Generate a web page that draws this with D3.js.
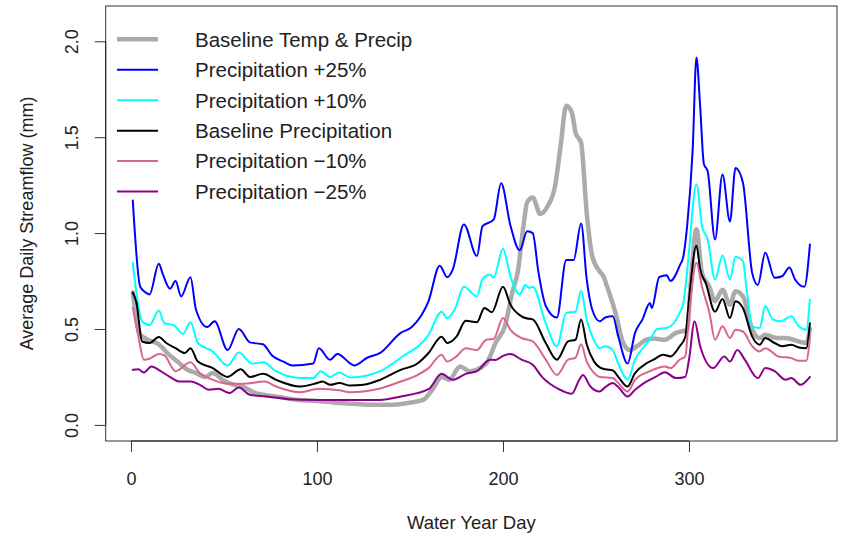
<!DOCTYPE html>
<html><head><meta charset="utf-8">
<script src="https://cdn.jsdelivr.net/npm/d3@7"></script>
<style>
html,body{margin:0;padding:0;background:#fff;}
svg{display:block;}
text{font-family:"Liberation Sans",Arial,Helvetica,sans-serif;fill:#222;}
</style></head>
<body><svg id="chart" width="843" height="533"></svg>
<script>
// ---------- data ----------
const xTicks = [0, 100, 200, 300];
const yTicks = [0, 0.5, 1.0, 1.5, 2.0];
const yTickLabels = ["0.0", "0.5", "1.0", "1.5", "2.0"];
const seriesNames = ["Baseline Temp & Precip", "Precipitation +25%", "Precipitation +10%",
  "Baseline Precipitation", "Precipitation \u221210%", "Precipitation \u221225%"];

const greyDays = [1,5,10,15,20,25,30,35,40,44,50,55,60,67,70,80,90,100,110,120,130,140,148,157,162,167,171,177,182,191,196,201,205,208,211,213,216,220,224,228,231,234,237,239,242,245,248,252,254,256,261,264,268,272,277,281,287,293,299,301,304,307,311,314,318,322,325,329,334,338,341,347,352,359,363,365];
const greyVals = [0.69,0.47,0.44,0.42,0.37,0.33,0.29,0.27,0.25,0.27,0.23,0.21,0.20,0.166,0.16,0.145,0.13,0.125,0.115,0.11,0.105,0.105,0.113,0.13,0.183,0.25,0.235,0.305,0.28,0.32,0.427,0.514,0.69,0.80,1.036,1.16,1.185,1.10,1.14,1.245,1.455,1.664,1.63,1.524,1.47,1.106,0.88,0.80,0.775,0.72,0.566,0.444,0.39,0.41,0.444,0.45,0.444,0.48,0.496,0.75,1.02,0.79,0.72,0.645,0.705,0.627,0.697,0.67,0.496,0.453,0.47,0.453,0.453,0.435,0.427,0.50];

const blueDays = [1,5,8,10,15,17,21,24,27,32,35,41,45,52,58,64,71,76,82,87,98,101,107,111,118,120,127,134,145,151,160,166,170,173,179,186,189,195,199,204,209,213,216,219,223,229,234,238,242,245,248,252,255,259,262,267,271,275,279,280,284,288,290,295,297,299,302,304,306,308,310,314,318,322,325,329,334,337,341,346,350,354,357,362,365];
const blueVals = [1.17,0.72,0.69,0.68,0.84,0.79,0.71,0.75,0.67,0.77,0.60,0.51,0.54,0.39,0.50,0.43,0.42,0.36,0.33,0.31,0.32,0.40,0.34,0.37,0.32,0.31,0.35,0.375,0.48,0.51,0.645,0.83,0.77,0.81,1.045,0.88,1.036,1.07,1.26,1.04,0.91,1.01,1.00,0.80,0.62,0.56,0.86,0.86,1.05,0.76,0.60,0.54,0.56,0.566,0.46,0.32,0.48,0.55,0.636,0.61,0.77,0.78,0.75,0.83,0.88,1.036,1.44,1.916,1.66,1.36,1.324,0.967,1.306,1.06,1.34,1.263,0.79,0.73,0.897,0.767,0.775,0.82,0.758,0.72,0.94];

const cyanDays = [1,6,10,15,18,23,28,32,36,44,52,58,65,71,78,91,98,102,107,112,118,134,145,160,167,170,174,179,186,189,193,195,200,204,209,212,214,216,223,229,234,239,242,245,249,252,255,259,262,267,271,276,279,283,288,295,297,299,304,307,310,314,318,322,325,329,331,334,338,341,345,349,355,359,363,365];
const cyanVals = [0.845,0.54,0.52,0.596,0.53,0.52,0.475,0.535,0.427,0.383,0.31,0.378,0.32,0.326,0.28,0.244,0.244,0.28,0.25,0.273,0.247,0.28,0.35,0.47,0.59,0.557,0.60,0.72,0.67,0.76,0.784,0.767,0.918,0.775,0.68,0.73,0.714,0.72,0.53,0.41,0.584,0.59,0.70,0.55,0.44,0.40,0.41,0.39,0.32,0.235,0.34,0.41,0.444,0.50,0.505,0.584,0.636,0.80,1.254,1.036,0.967,0.758,0.883,0.758,0.876,0.853,0.705,0.514,0.505,0.62,0.55,0.54,0.566,0.514,0.496,0.653];

const blackDays = [1,3,6,10,15,19,24,29,32,36,44,52,59,64,71,78,91,100,103,107,112,118,125,134,145,154,160,167,170,175,180,186,190,194,200,204,210,212,216,223,229,235,239,242,245,249,252,255,259,262,267,271,277,281,286,290,295,298,300,304,306,309,314,318,322,325,329,334,338,341,346,350,355,359,363,365];
const blackVals = [0.69,0.636,0.435,0.427,0.458,0.427,0.40,0.375,0.40,0.33,0.296,0.25,0.29,0.25,0.266,0.235,0.20,0.218,0.226,0.209,0.218,0.205,0.209,0.235,0.287,0.32,0.375,0.46,0.427,0.46,0.543,0.535,0.61,0.587,0.72,0.627,0.566,0.557,0.55,0.427,0.34,0.435,0.444,0.55,0.42,0.33,0.30,0.29,0.284,0.25,0.20,0.27,0.32,0.34,0.366,0.357,0.41,0.458,0.653,0.935,0.81,0.74,0.59,0.657,0.557,0.645,0.61,0.46,0.418,0.453,0.427,0.41,0.418,0.404,0.40,0.53];

const pinkDays = [1,4,7,10,15,18,24,32,37,44,52,60,72,78,91,101,112,118,125,134,145,154,160,167,170,175,180,186,191,195,200,204,210,216,223,229,235,239,242,245,249,252,259,262,267,271,279,287,290,295,298,300,304,307,311,314,318,322,325,329,334,338,341,348,355,359,363,365];
const pinkVals = [0.61,0.46,0.34,0.345,0.37,0.362,0.28,0.326,0.27,0.235,0.214,0.214,0.226,0.20,0.17,0.188,0.18,0.17,0.174,0.19,0.226,0.26,0.296,0.366,0.33,0.357,0.40,0.39,0.444,0.448,0.557,0.496,0.453,0.435,0.34,0.26,0.34,0.35,0.42,0.33,0.27,0.25,0.244,0.218,0.174,0.235,0.28,0.305,0.296,0.34,0.357,0.566,0.845,0.72,0.584,0.444,0.514,0.453,0.496,0.487,0.41,0.383,0.40,0.357,0.348,0.334,0.334,0.453];

const purpleDays = [1,4,7,11,16,21,26,32,37,42,47,53,58,64,73,85,100,118,134,145,160,167,173,180,186,193,196,200,204,210,216,221,230,237,241,243,247,252,255,259,262,267,271,277,282,287,293,298,300,303,306,313,319,322,326,330,337,341,346,352,355,360,365];
const purpleVals = [0.287,0.29,0.273,0.305,0.28,0.25,0.226,0.226,0.209,0.183,0.188,0.166,0.195,0.157,0.148,0.134,0.13,0.13,0.13,0.148,0.186,0.266,0.235,0.266,0.28,0.34,0.338,0.36,0.37,0.34,0.314,0.25,0.186,0.162,0.235,0.26,0.20,0.174,0.197,0.218,0.197,0.148,0.183,0.226,0.25,0.275,0.244,0.25,0.34,0.54,0.41,0.296,0.357,0.33,0.39,0.34,0.244,0.296,0.28,0.235,0.244,0.209,0.25];

// ---------- drawing ----------
const svg = d3.select("#chart");
const box = {left: 105.7, right: 837, top: 6, bottom: 441};

const x = d3.scaleLinear().domain([-13.56, 379.56]).range([box.left, box.right]);
const y = d3.scaleLinear().domain([-0.084, 2.184]).range([box.bottom, box.top]);

const series = [
  {name: seriesNames[0], days: greyDays, vals: greyVals, color: "#ababab", width: 4.5},
  {name: seriesNames[1], days: blueDays, vals: blueVals, color: "#0000ff", width: 2},
  {name: seriesNames[2], days: cyanDays, vals: cyanVals, color: "#00ffff", width: 2},
  {name: seriesNames[3], days: blackDays, vals: blackVals, color: "#000000", width: 2},
  {name: seriesNames[4], days: pinkDays, vals: pinkVals, color: "#d9668c", width: 2},
  {name: seriesNames[5], days: purpleDays, vals: purpleVals, color: "#8b008b", width: 2}
];

const line = d3.line()
  .x(d => x(d[0]))
  .y(d => y(d[1]))
  .curve(d3.curveMonotoneX);

const plot = svg.append("g");
plot.append("defs").append("clipPath").attr("id", "clip")
  .append("rect").attr("x", box.left).attr("y", box.top)
  .attr("width", box.right - box.left).attr("height", box.bottom - box.top);

const lines = plot.append("g").attr("clip-path", "url(#clip)");
series.forEach(s => {
  lines.append("path")
    .datum(s.days.map((d, i) => [d, s.vals[i]]))
    .attr("d", line)
    .attr("fill", "none")
    .attr("stroke", s.color)
    .attr("stroke-width", s.width)
    .attr("stroke-linejoin", "round")
    .attr("stroke-linecap", "round");
});

// box
svg.append("rect")
  .attr("x", box.left).attr("y", box.top)
  .attr("width", box.right - box.left).attr("height", box.bottom - box.top)
  .attr("fill", "none").attr("stroke", "#333").attr("stroke-width", 1);

const fontSize = 18;
const legendFontSize = 20.5;

// x axis
const xAxis = svg.append("g")
  .attr("transform", `translate(0,${box.bottom})`)
  .call(d3.axisBottom(x).tickValues(xTicks).tickSize(11).tickSizeOuter(0).tickPadding(20).tickFormat(d3.format("d")));
xAxis.select(".domain").remove();
xAxis.append("line").attr("x1", x(xTicks[0])).attr("x2", x(xTicks[xTicks.length - 1]))
  .attr("y1", 0).attr("y2", 0).attr("stroke", "#222").attr("stroke-width", 1);
xAxis.selectAll(".tick line").attr("stroke", "#333");
xAxis.selectAll(".tick text").attr("font-size", fontSize).attr("fill", "#222")
  .style("font-family", '"Liberation Sans",Arial,sans-serif');

// y axis
const yAxis = svg.append("g")
  .attr("transform", `translate(${box.left},0)`)
  .call(d3.axisLeft(y).tickValues(yTicks).tickSize(11).tickSizeOuter(0)
    .tickFormat((d, i) => yTickLabels[i]));
yAxis.select(".domain").remove();
yAxis.append("line").attr("y1", y(yTicks[0])).attr("y2", y(yTicks[yTicks.length - 1]))
  .attr("x1", 0).attr("x2", 0).attr("stroke", "#222").attr("stroke-width", 1);
yAxis.selectAll(".tick line").attr("stroke", "#333");
yAxis.selectAll(".tick text")
  .attr("x", null).attr("dy", null)
  .attr("text-anchor", "middle")
  .attr("transform", `translate(${78 - box.left},0) rotate(-90)`)
  .attr("font-size", fontSize).attr("fill", "#222")
  .style("font-family", '"Liberation Sans",Arial,sans-serif');

// axis titles
svg.append("text")
  .attr("x", (box.left + box.right) / 2).attr("y", 529)
  .attr("text-anchor", "middle").attr("font-size", 18.5)
  .text("Water Year Day");
svg.append("text")
  .attr("transform", `translate(33,${(box.top + box.bottom) / 2}) rotate(-90)`)
  .attr("text-anchor", "middle").attr("font-size", fontSize)
  .text("Average Daily Streamflow (mm)");

// legend
const legend = svg.append("g");
series.forEach((s, i) => {
  const ly = 39.3 + i * 30.45;
  legend.append("line")
    .attr("x1", 117).attr("x2", 158).attr("y1", ly).attr("y2", ly)
    .attr("stroke", s.color).attr("stroke-width", s.width);
  legend.append("text")
    .attr("x", 195).attr("y", ly).attr("dy", "0.36em")
    .attr("font-size", legendFontSize)
    .text(s.name);
});
</script></body></html>
